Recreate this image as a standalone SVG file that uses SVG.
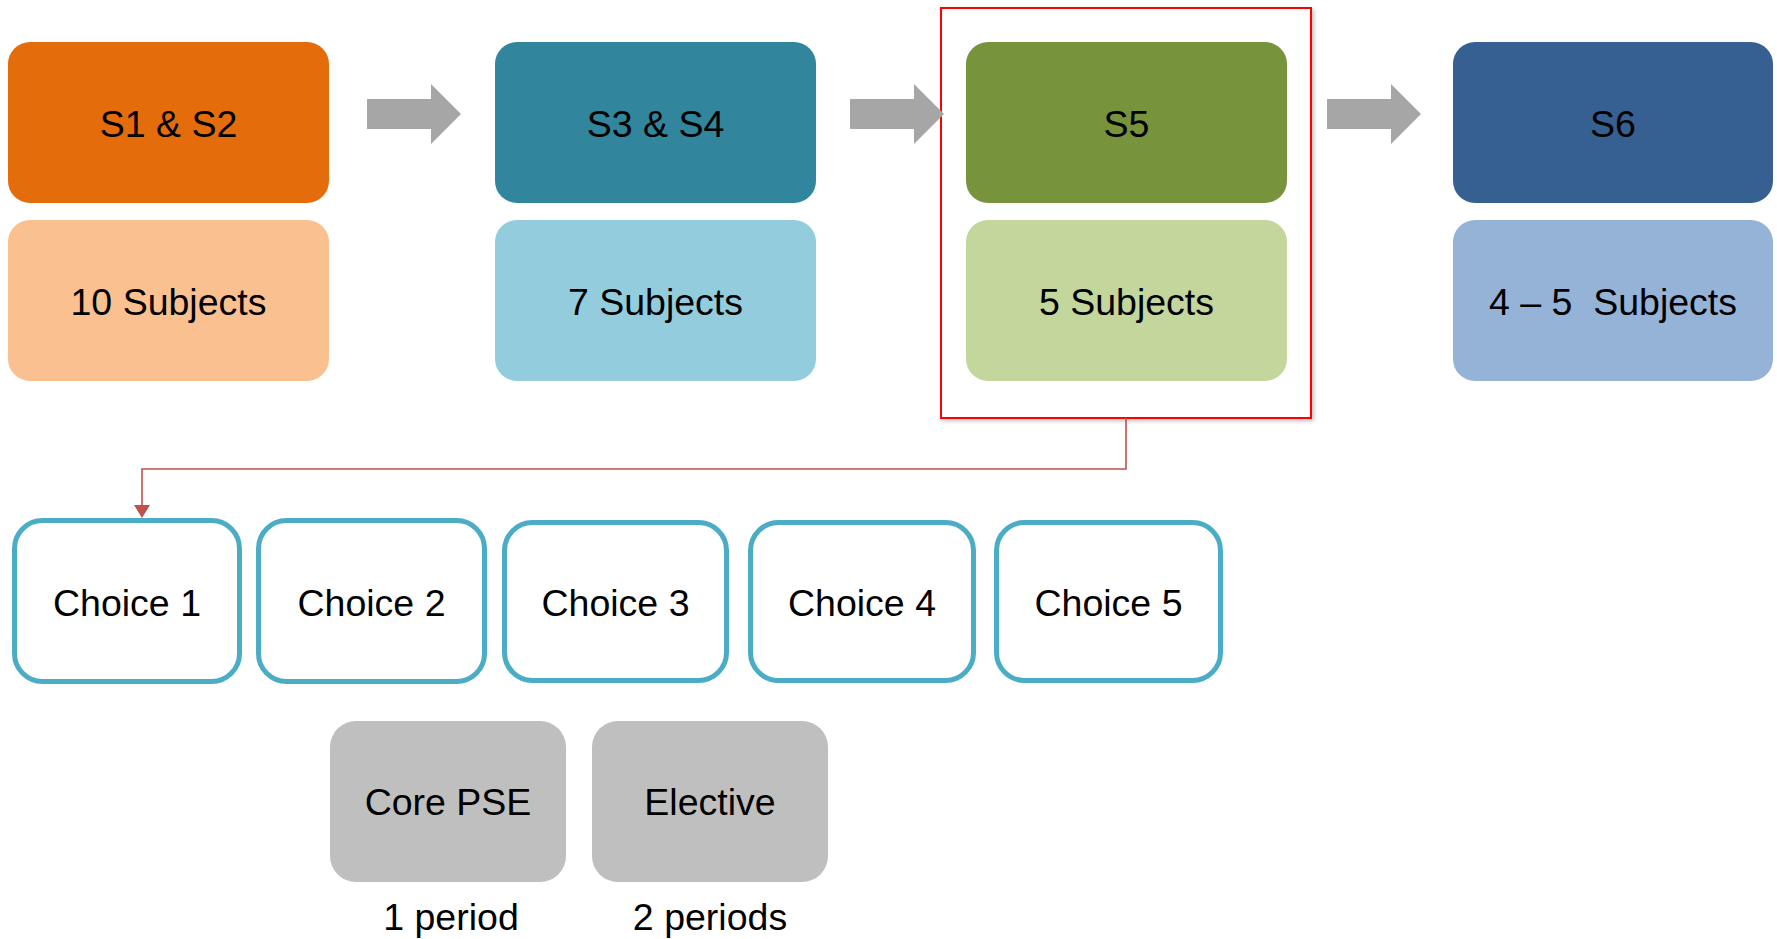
<svg xmlns="http://www.w3.org/2000/svg" width="1777" height="939" viewBox="0 0 1777 939">
<style>
text{font-family:"Liberation Sans",Arial,sans-serif;font-size:37.5px;fill:#000;text-anchor:middle;white-space:pre}
.arrow{fill:#A6A6A6}
.choice{fill:#fff;stroke:#4BACC6;stroke-width:5}
.grey{fill:#BFBFBF}
.conn{fill:none;stroke:#C0504D;stroke-width:1.6}
</style>
<defs>
<filter id="sh" x="-5%" y="-5%" width="110%" height="110%">
<feDropShadow dx="2" dy="2" stdDeviation="2" flood-color="#000" flood-opacity="0.25"/>
</filter>
</defs>
<g id="frame-s5">
<rect x="941" y="8" width="370" height="410" fill="#fff" stroke="#FF0000" stroke-width="2" filter="url(#sh)"/>
</g>
<g id="arrows">
<polygon class="arrow" points="367,99 431,99 431,84 461,114 431,144 431,129 367,129"/>
<polygon class="arrow" points="850,99 914,99 914,84 944,114 914,144 914,129 850,129"/>
<polygon class="arrow" points="1327,99 1391,99 1391,84 1421,114 1391,144 1391,129 1327,129"/>
</g>
<g id="s1s2">
<rect x="8" y="42" width="321" height="161" rx="22" fill="#E46C0A"/>
<text x="168.5" y="137">S1 &amp; S2</text>
</g>
<g id="s1s2-subjects">
<rect x="8" y="220" width="321" height="161" rx="22" fill="#FAC090"/>
<text x="168.5" y="315">10 Subjects</text>
</g>
<g id="s3s4">
<rect x="495" y="42" width="321" height="161" rx="22" fill="#31859C"/>
<text x="655.5" y="137">S3 &amp; S4</text>
</g>
<g id="s3s4-subjects">
<rect x="495" y="220" width="321" height="161" rx="22" fill="#93CDDD"/>
<text x="655.5" y="315">7 Subjects</text>
</g>
<g id="s5">
<rect x="966" y="42" width="321" height="161" rx="22" fill="#77933C"/>
<text x="1126.5" y="137">S5</text>
</g>
<g id="s5-subjects">
<rect x="966" y="220" width="321" height="161" rx="22" fill="#C3D69B"/>
<text x="1126.5" y="315">5 Subjects</text>
</g>
<g id="s6">
<rect x="1453" y="42" width="320" height="161" rx="22" fill="#366092"/>
<text x="1613" y="137">S6</text>
</g>
<g id="s6-subjects">
<rect x="1453" y="220" width="320" height="161" rx="22" fill="#95B3D7"/>
<text x="1613" y="315">4 – 5  Subjects</text>
</g>
<g id="connectors">
<path class="conn" d="M1126,418 L1126,469 L142,469 L142,506"/>
<path d="M134,505 L150,505 L142,518 Z" fill="#C0504D"/>
</g>
<g id="choice1">
<rect class="choice" x="14.5" y="520.5" width="225" height="161" rx="28"/>
<text x="127" y="616">Choice 1</text>
</g>
<g id="choice2">
<rect class="choice" x="258.5" y="520.5" width="226" height="161" rx="28"/>
<text x="371.5" y="616">Choice 2</text>
</g>
<g id="choice3">
<rect class="choice" x="504.5" y="522.5" width="222" height="158" rx="28"/>
<text x="615.5" y="616">Choice 3</text>
</g>
<g id="choice4">
<rect class="choice" x="750.5" y="522.5" width="223" height="158" rx="28"/>
<text x="862" y="616">Choice 4</text>
</g>
<g id="choice5">
<rect class="choice" x="996.5" y="522.5" width="224" height="158" rx="28"/>
<text x="1108.5" y="616">Choice 5</text>
</g>
<g id="core-pse">
<rect class="grey" x="330" y="721" width="236" height="161" rx="26"/>
<text x="448" y="815">Core PSE</text>
<text x="451" y="930">1 period</text>
</g>
<g id="elective">
<rect class="grey" x="592" y="721" width="236" height="161" rx="26"/>
<text x="710" y="815">Elective</text>
<text x="710" y="930">2 periods</text>
</g>
</svg>
